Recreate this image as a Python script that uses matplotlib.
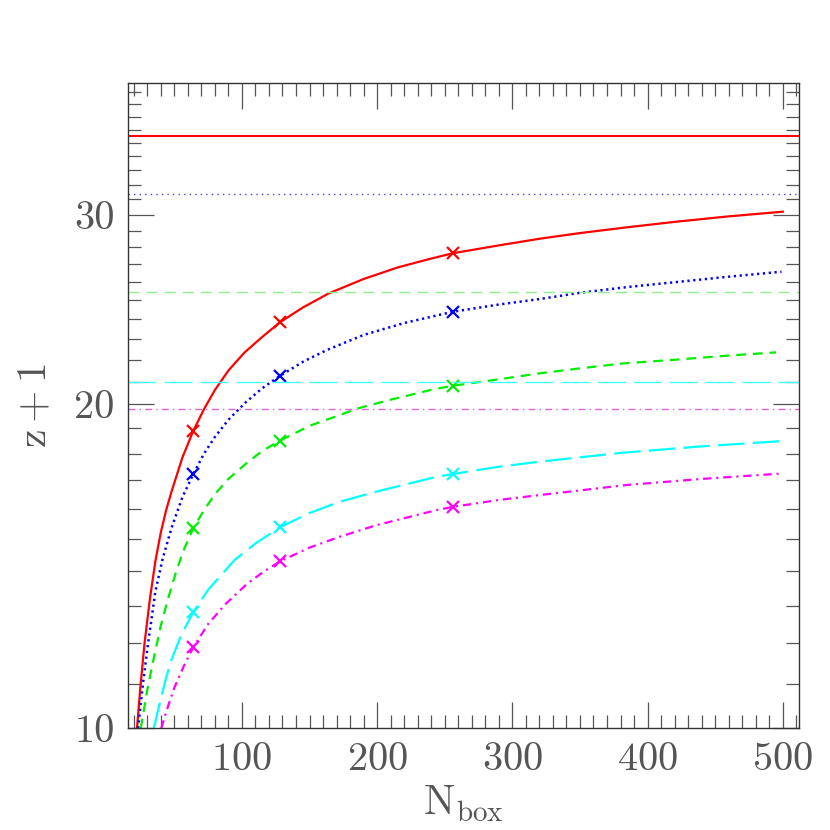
import numpy as np
import matplotlib
matplotlib.use("Agg")
from matplotlib import pyplot as plt
from matplotlib.ticker import MultipleLocator, FixedLocator, FixedFormatter, NullFormatter

# Data
###########################################################################
red_n   = [22.4, 25, 28, 32, 36, 40, 44, 48, 56, 64, 72, 80, 90, 102, 115, 128,
           145, 164, 190, 215, 239, 256, 290, 320, 350, 384, 420, 460, 500]
red_z   = [10.0, 10.95, 12.0, 13.2, 14.3, 15.2, 15.95, 16.6, 17.85, 18.89, 19.8, 20.62, 21.5, 22.35, 23.1, 23.83,
           24.6, 25.35, 26.15, 26.8, 27.3, 27.63, 28.1, 28.5, 28.85, 29.2, 29.55, 29.9, 30.2]

blue_n  = [23.2, 27, 30.6, 36, 41.2, 48, 56, 64, 72, 80, 90, 102.5, 115, 128,
           145, 163, 190, 220, 256, 290, 320, 350, 387, 420, 460, 499]
blue_z  = [10.0, 11.05, 11.99, 13.4, 14.34, 15.36, 16.4, 17.22, 18.0, 18.65, 19.35, 20.07, 20.7, 21.25,
           21.9, 22.47, 23.2, 23.8, 24.38, 24.76, 25.05, 25.39, 25.72, 25.97, 26.28, 26.56]

green_n = [25.2, 30, 35, 40, 45, 51.5, 57, 64, 72, 80, 90, 103.3, 115, 128,
           150, 170, 186, 210, 241.6, 256, 290, 320, 350, 382, 420, 460, 495]
green_z = [10.0, 10.85, 11.65, 12.45, 13.15, 14.0, 14.65, 15.34, 15.95, 16.5, 17.05, 17.63, 18.1, 18.5,
           19.1, 19.5, 19.83, 20.2, 20.65, 20.81, 21.1, 21.37, 21.6, 21.83, 22.0, 22.2, 22.35]

cyan_n  = [34.8, 40, 44, 47.8, 55, 64, 75, 94.7, 110, 128, 150, 172.6, 200, 244, 256, 290, 320, 381, 440, 500]
cyan_z  = [10.0, 10.65, 11.15, 11.57, 12.2, 12.82, 13.45, 14.34, 14.85, 15.37, 15.85, 16.24, 16.6, 17.13, 17.23,
           17.5, 17.69, 18.03, 18.28, 18.49]

mag_n   = [40.4, 45, 50.3, 57, 64, 75, 88, 104, 115, 128, 150, 172.6, 200, 244, 256, 290, 320, 384.6, 440, 500]
mag_z   = [10.0, 10.45, 10.93, 11.42, 11.89, 12.5, 13.05, 13.63, 13.95, 14.29, 14.72, 15.07, 15.45, 15.95, 16.06,
           16.3, 16.47, 16.83, 17.05, 17.25]

mark_n  = [64, 128, 256]

# asymptotic levels
hline_z = [35.53, 31.35, 25.45, 20.96, 19.79]

x_ticks  = [100, 200, 300, 400, 500]
y_ticks  = [10, 20, 30]
y_labels = ["10", "20", "30"]

# Plot setup
###########################################################################
params = {'font.family'       : 'cmr10',
          'mathtext.fontset'  : 'cm',
          'axes.formatter.use_mathtext' : True,
          'lines.scale_dashes': False,
          'axes.unicode_minus': False,
}
plt.rcParams.update(params)

fig = plt.figure(figsize=(8.3, 8.3), dpi=100)
ax = fig.add_axes([0.1546, 0.1225, 0.8081, 0.7779])

curves = [
    (red_n,   red_z,   'red',     '-',                      '-',               1.6, 1.5),
    (blue_n,  blue_z,  'blue',    (0, (1.6, 2.6)),          (0, (1, 3)),       1.8, 1.0),
    (green_n, green_z, '#00ee00', (0, (7, 5)),              (0, (8, 5)),       1.6, 1.0),
    (cyan_n,  cyan_z,  'cyan',    (0, (19, 6)),             (0, (20, 6)),      1.6, 1.0),
    (mag_n,   mag_z,   'magenta', (0, (6, 3.5, 1.5, 3.5)),  (0, (5, 3, 1, 3)), 1.6, 1.0),
]
hline_colors = ['red', '#4444ff', '#90ee90', '#40ffff', '#dd66dd']

for (n, z, c, ls, hls, lw, hlw), hz, hc in zip(curves, hline_z, hline_colors):
    ax.plot(n, z, color=c, linestyle=ls, linewidth=lw)
    mz = [z[n.index(m)] for m in mark_n]
    ax.plot(mark_n, mz, linestyle='none', marker='x', color=c, markersize=8.5, markeredgewidth=1.6)
    ax.axhline(hz, color=hc, linestyle=hls, linewidth=hlw)

ax.set_xlim(16, 512)
ax.set_yscale('log')
ax.set_ylim(10, 39.8)

ax.xaxis.set_major_locator(FixedLocator(x_ticks))
ax.xaxis.set_minor_locator(MultipleLocator(10))
ax.yaxis.set_major_locator(FixedLocator(y_ticks))
ax.yaxis.set_major_formatter(FixedFormatter(y_labels))
ax.yaxis.set_minor_locator(FixedLocator([v for v in range(11, 40) if v % 10 != 0]))
ax.yaxis.set_minor_formatter(NullFormatter())

ax.tick_params(which='both', direction='in', top=True, right=True, colors='#555555',
               labelsize=29, labelcolor='#555555')
ax.tick_params(which='major', length=18.5, width=0.9, pad=10)
ax.tick_params(which='minor', length=9.5, width=0.9)
for s in ax.spines.values():
    s.set_color('#333333')
    s.set_linewidth(1.0)

ax.set_xlabel(r'$\mathrm{N_{box}}$', fontsize=30, color='#555555', labelpad=4)
ax.set_ylabel(r'$\mathrm{z+1}$', fontsize=30, color='#555555', labelpad=14)

plt.savefig("out.png", dpi=100)
